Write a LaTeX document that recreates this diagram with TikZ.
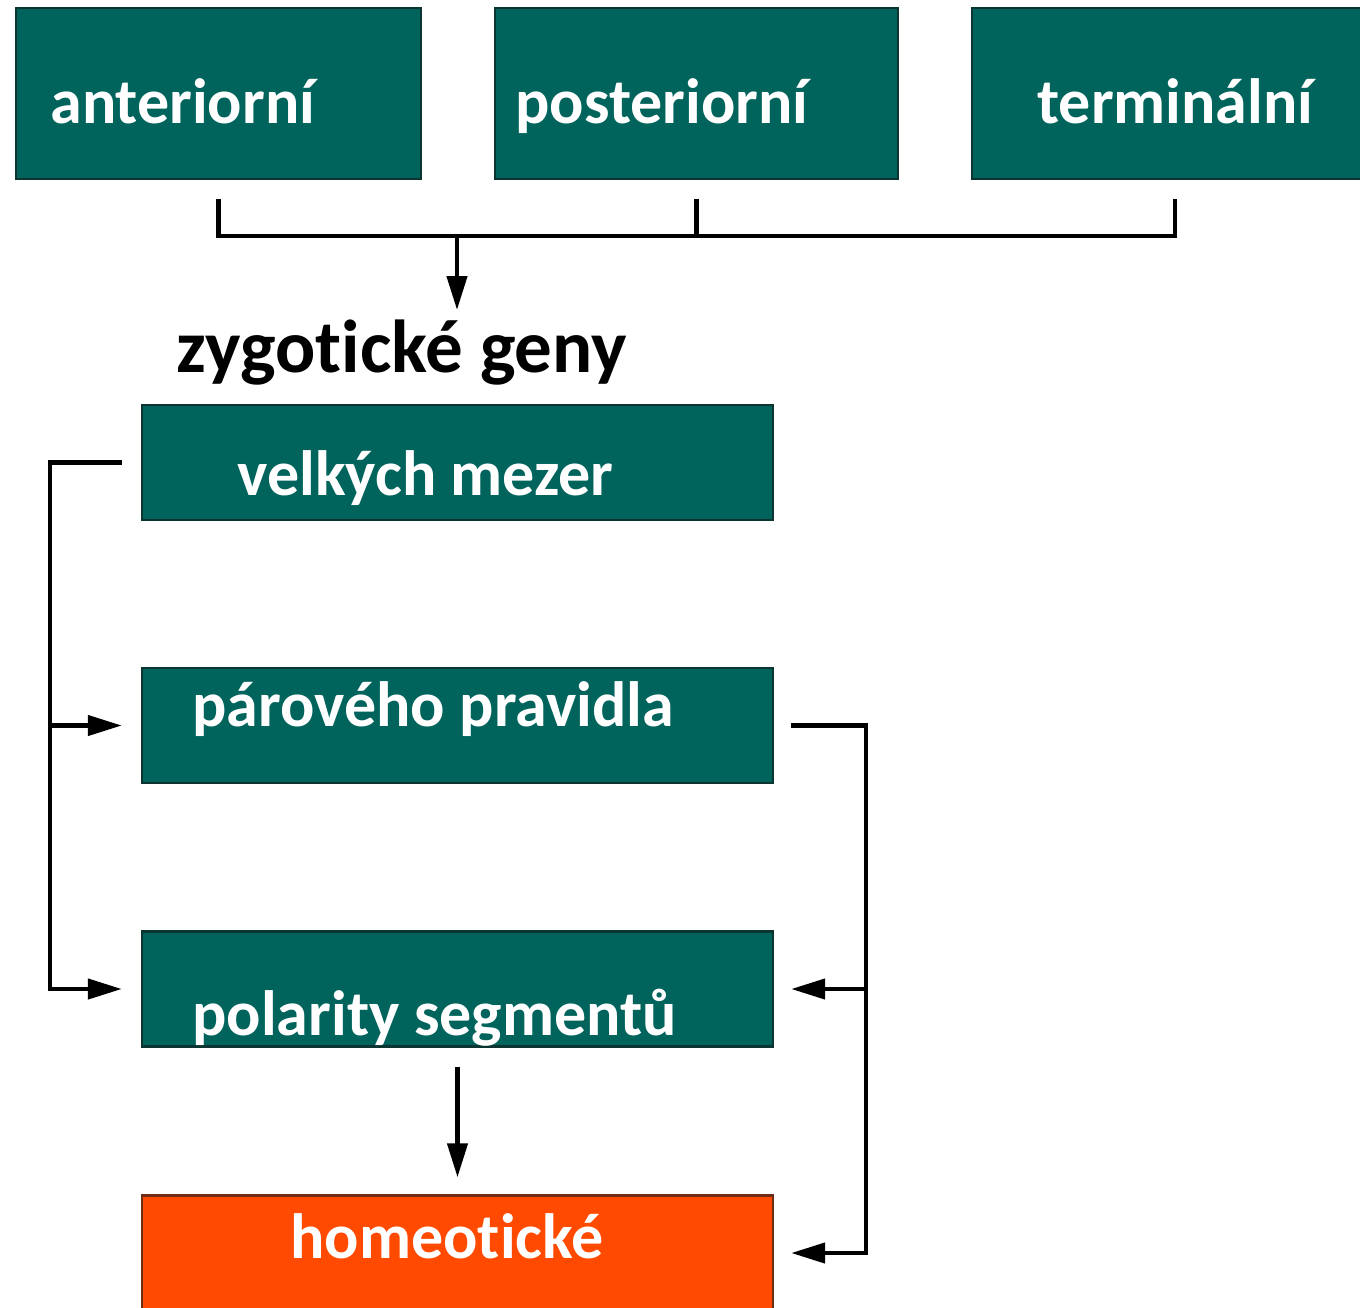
\documentclass[tikz,border=0pt]{standalone}
\usepackage{fontspec}
\setmainfont{Carlito}[Ligatures=NoCommon]
\usetikzlibrary{arrows.meta}
\definecolor{geneteal}{RGB}{0,100,92}
\definecolor{geneedge}{RGB}{12,52,48}
\definecolor{homeo}{RGB}{255,74,0}
\definecolor{homeoedge}{RGB}{110,45,20}

\begin{document}
\begin{tikzpicture}[x=0.5pt,y=-0.5pt,
    genebox/.style={rectangle,fill=geneteal,draw=geneedge,line width=1.2pt,minimum height=57.5pt,inner sep=0pt},
    lbl/.style={anchor=base west,inner sep=0pt,font=\fontsize{32}{38}\selectfont\bfseries,text=white},
    wire/.style={line width=2.2pt,black},
    arr/.style={wire,-{Triangle[length=17pt,width=10pt]}}]
  \clip (0,0) rectangle (1360,1307);
  \fill[white] (0,0) rectangle (1360,1307);
  % maternal genes
  \node[genebox,minimum width=202.5pt,minimum height=85.5pt] (ant)  at (218.5,93.5) {};
  \node[genebox,minimum width=201.5pt,minimum height=85.5pt] (post) at (696.5,93.5) {};
  \node[genebox,minimum width=203pt,minimum height=85.5pt]   (term) at (1175,93.5) {};
  \node[lbl] (ant-t)  at (50,123)   {anteriorní};
  \node[lbl] (post-t) at (515,123)  {posteriorní};
  \node[lbl] (term-t) at (1037,123) {terminální};
  % zygotic genes
  \node[lbl,text=black,font=\fontsize{37.5}{44}\selectfont\bfseries] (zyg) at (176,372) {zygotické geny};
  \node[genebox,minimum width=315.5pt] (gap)  at (457.5,462.5) {};
  \node[genebox,minimum width=315.5pt] (pair) at (457.5,725.5) {};
  \node[genebox,minimum width=315.5pt] (pol)  at (457.5,989) {};
  \node[genebox,fill=homeo,draw=homeoedge,minimum width=315.5pt] (hom) at (457.5,1253) {};
  \node[lbl] (gap-t)  at (237,495)  {velkých mezer};
  \node[lbl] (pair-t) at (192,726)  {párového pravidla};
  \node[lbl] (pol-t)  at (192,1035) {polarity segmentů};
  \node[lbl] (hom-t)  at (290,1258) {homeotické};
  % connectors
  \coordinate (bar) at (457,236);
  \coordinate (lrail) at (50,0);
  \coordinate (rrail) at (866,0);
  \draw[wire] ([yshift=-9.5pt]ant.south) -- (ant.south |- bar) -- (term.south |- bar) -- ([yshift=-9.5pt]term.south);
  \draw[wire] ([yshift=-9.5pt]post.south) -- (post.south |- bar);
  \draw[arr] (bar) -- ++(0,74);
  \draw[arr] ([xshift=-9.5pt]gap.west) -| (lrail |- pol.west) -- ([xshift=-9.5pt]pol.west);
  \draw[arr] (lrail |- pair.west) -- ([xshift=-9.5pt]pair.west);
  \draw[arr] ([xshift=8.5pt]pair.east) -| (rrail |- hom.east) -- ([xshift=8.5pt]hom.east);
  \draw[arr] (rrail |- pol.east) -- ([xshift=8.5pt]pol.east);
  \draw[arr,shorten <=9.5pt,shorten >=8.5pt] (pol.south) -- (hom.north);
\end{tikzpicture}
\end{document}
